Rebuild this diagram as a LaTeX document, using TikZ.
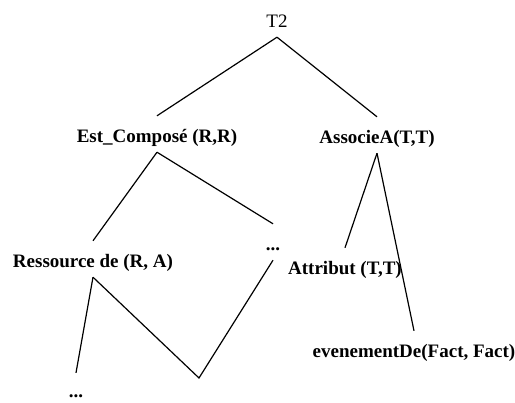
\documentclass[tikz,border=0pt]{standalone}
\usepackage{fontspec}
\setmainfont{Liberation Serif}
\begin{document}
\begin{tikzpicture}[x=1pt,y=-1pt,
  lbl/.style={anchor=base,inner xsep=0pt,inner ysep=3pt,text height=24pt,text depth=6pt,
    font=\fontsize{19}{22}\selectfont\bfseries},
  rootlbl/.style={lbl,font=\fontsize{19}{22}\selectfont},
  lastlbl/.style={lbl,inner ysep=0pt,text height=25pt,text depth=0pt},
  edge/.style={draw=black,line width=1.2pt}]
\useasboundingbox (0,0) rectangle (515,403);
\node[rootlbl] (T2) at (277,28) {T2};
\node[lbl] (Est) at (157,143) {Est\_Composé (R,R)};
\node[lbl] (Assoc) at (377,144) {AssocieA(T,T)};
\node[lbl] (Res) at (93,268) {Ressource de (R, A)};
\node[lbl] (DotsMid) at (273,251) {...};
\node[lbl] (Attr) at (345,275) {Attribut (T,T)};
\node[lbl] (Even) at (414,358) {evenementDe(Fact, Fact)};
\node[lastlbl] (DotsBot) at (76,398) {...};
\coordinate (Vbot) at (199,378);
\draw[edge] (T2.south) -- (Est.north);
\draw[edge] (T2.south) -- (Assoc.north);
\draw[edge] (Est.south) -- (Res.north);
\draw[edge] (Est.south) -- (DotsMid.north);
\draw[edge] (Res.south) -- (DotsBot.north);
\draw[edge] (Res.south) -- (Vbot) -- (DotsMid.south);
\draw[edge] (Assoc.south) -- (Attr.north);
\draw[edge] (Assoc.south) -- (Even.north);
\end{tikzpicture}
\end{document}
